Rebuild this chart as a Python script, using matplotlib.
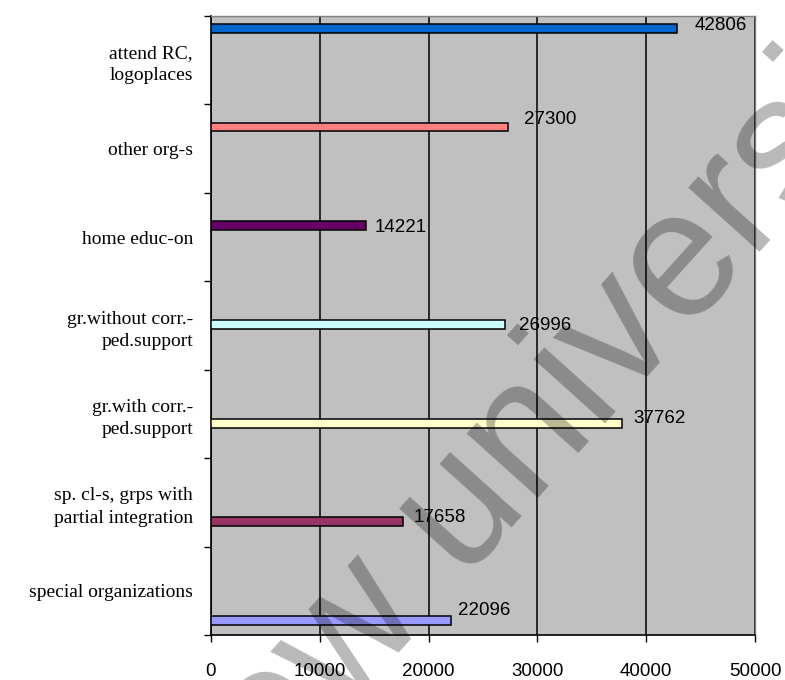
import matplotlib
matplotlib.use("Agg")
import matplotlib.pyplot as plt

# categories top to bottom, as in the picture
categories = [
    "attend RC,\nlogoplaces",
    "other org-s",
    "home educ-on",
    "gr.without corr.-\nped.support",
    "gr.with corr.-\nped.support",
    "sp. cl-s, grps with\npartial integration",
    "special organizations",
]
values = [42806, 27300, 14221, 26996, 37762, 17658, 22096]
bar_colors = ["#0066CC", "#FF8080", "#660066", "#CCFFFF", "#FFFFCC", "#993366", "#9999FF"]
x_ticks = [0, 10000, 20000, 30000, 40000, 50000]

# little nudges of the value labels (pixels), as Excel put them
label_dx = [18, 16, 9, 14, 11, 11, 7]
label_dy = [3, 8, -2, -1, 5, 4, 10]

fig = plt.figure(figsize=(7.85, 6.80), dpi=100)
ax = fig.add_axes([211 / 785, 1 - 635 / 680, 544 / 785, 619 / 680])
ax.set_facecolor("#C0C0C0")

n = len(categories)
bar_pos = [0.14 + 1.116 * i for i in range(n)]
ax.barh(bar_pos, values, height=0.1, color=bar_colors, edgecolor="black",
        linewidth=1.1, zorder=3)

for i, v in enumerate(values):
    ax.annotate(str(v), xy=(v, bar_pos[i]), xytext=(label_dx[i], label_dy[i]),
                textcoords="offset pixels", ha="left", va="center",
                fontsize=13.5, family=["Liberation Sans", "DejaVu Sans"], zorder=4)

ax.set_xlim(0, 50000)
ax.set_ylim(n, 0)
ax.set_xticks(x_ticks)
ax.set_xticklabels([str(t) for t in x_ticks], fontsize=13.5,
                   family=["Liberation Sans", "DejaVu Sans"])
ax.grid(axis="x", color="black", linewidth=1.1, zorder=1)
ax.set_axisbelow(True)

ax.set_yticks(range(n + 1))
ax.set_yticklabels([])
ax.set_yticks([i + 0.5 for i in range(n)], minor=True)
ax.set_yticklabels(categories, minor=True, fontsize=14,
                   family=["Liberation Serif", "DejaVu Serif"], linespacing=1.4)
ax.tick_params(axis="y", which="major", length=5, width=1, direction="out")
ax.tick_params(axis="y", which="minor", length=0, pad=13)
ax.tick_params(axis="x", length=5, width=1, direction="out", pad=15)

for side in ["top", "right"]:
    ax.spines[side].set_color("#808080")
    ax.spines[side].set_linewidth(1)
for side in ["left", "bottom"]:
    ax.spines[side].set_color("black")
    ax.spines[side].set_linewidth(1.2)

# watermark across the chart
fig.text(-13 / 785, (680 - 1111) / 680, "Moscow university", rotation=48,
         rotation_mode="anchor", ha="left", va="baseline", fontsize=130,
         family="Liberation Sans", color="black", alpha=0.28)

fig.savefig("out.png", dpi=100)
